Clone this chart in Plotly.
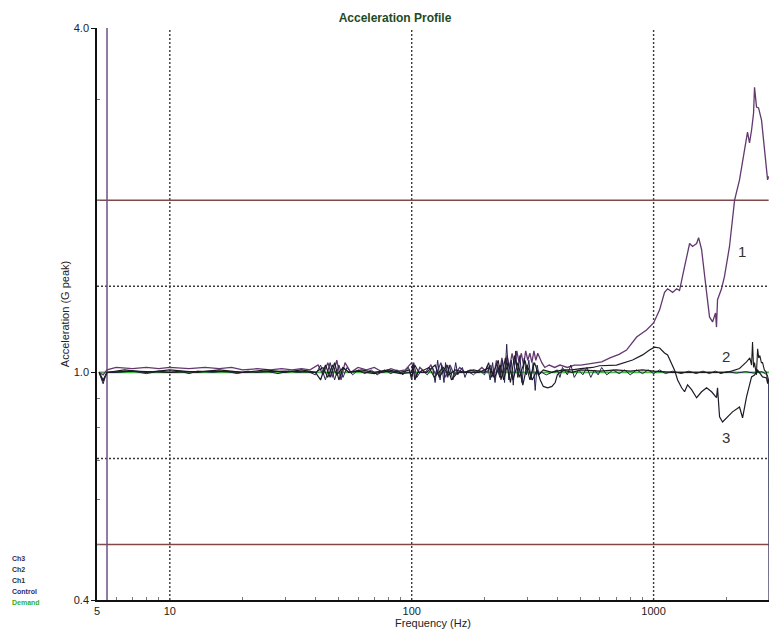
import numpy as np
import plotly.graph_objects as go

# ---- response data: (frequency Hz, acceleration G peak) ----
demand = [(5.1, 1.0), (3000, 1.0)]

control = [
    (5.1, 1.0), (5.2, 0.98), (5.3, 0.955), (5.4, 0.98), (5.5, 1.0), (6, 1.0), (7, 1.005),
    (8, 0.995), (9, 1.005), (10, 1.0), (11, 1.005), (12, 0.995), (13, 1.005), (15, 1.0),
    (17, 1.005), (19, 0.995), (21, 1.005), (23, 1.0), (25, 1.005), (28, 0.995), (31, 1.005),
    (34, 1.0), (37, 1.005), (40, 0.99), (42, 1.03), (44, 0.97), (46, 1.04), (48, 0.97),
    (50, 1.03), (52, 0.98), (54, 1.02), (57, 0.99), (60, 1.01), (64, 0.995), (68, 1.01),
    (72, 0.99), (77, 1.01), (82, 0.995), (87, 1.01), (92, 0.99), (97, 1.02), (100, 0.97),
    (102, 1.04), (105, 0.98), (110, 1.01), (116, 0.99), (122, 1.02), (125, 0.96), (128, 1.05),
    (131, 0.97), (133, 1.03), (136, 0.96), (138, 1.04), (141, 0.98), (143, 1.03), (148, 0.97),
    (152, 1.04), (155, 0.99), (162, 1.02), (166, 0.98), (170, 1.005), (180, 0.99),
    (190, 1.01), (200, 0.99), (206, 1.03), (211, 0.97), (216, 1.04), (221, 0.96), (226, 1.03),
    (231, 0.98), (237, 1.05), (242, 0.96), (247, 1.12), (252, 0.97), (258, 1.05), (263, 0.95),
    (269, 1.09), (274, 0.98), (280, 1.07), (286, 0.96), (292, 1.06), (298, 0.99), (305, 1.05),
    (311, 0.97), (318, 1.04), (324, 0.93), (330, 1.03), (336, 0.99), (345, 1.0), (360, 0.99),
    (380, 1.0), (400, 1.01), (410, 0.98), (420, 1.02), (440, 0.99), (455, 1.03), (470, 0.98),
    (490, 1.01), (510, 0.99), (530, 1.02), (550, 0.98), (570, 1.01), (590, 0.99), (610, 1.02),
    (640, 0.99), (680, 1.01), (720, 0.995), (760, 1.01), (800, 0.99), (850, 1.01), (900, 0.995),
    (950, 1.01), (1000, 0.995), (1060, 1.01), (1120, 0.995), (1200, 1.005), (1300, 0.995),
    (1400, 1.005), (1500, 0.995), (1600, 1.005), (1700, 0.995), (1800, 1.005), (1900, 0.995),
    (2000, 1.003), (2200, 0.997), (2400, 1.003), (2600, 0.997), (2800, 1.003), (2950, 0.99),
    (2990, 0.97), (3000, 0.3),
]

ch1 = [
    (5.1, 1.0), (5.3, 0.99), (5.5, 1.01), (6, 1.02), (7, 1.015), (8, 1.02), (9, 1.015),
    (10, 1.02), (12, 1.015), (14, 1.02), (16, 1.015), (18, 1.02), (20, 1.01), (23, 1.015),
    (26, 1.01), (29, 1.015), (32, 1.01), (35, 1.015), (38, 1.01), (41, 1.03), (43, 0.99),
    (45, 1.04), (47, 0.98), (49, 1.05), (51, 0.97), (53, 1.04), (56, 1.0), (60, 1.02),
    (65, 1.01), (70, 1.02), (76, 1.0), (82, 1.015), (88, 1.005), (94, 1.01), (100, 1.04),
    (104, 0.98), (108, 1.02), (114, 1.0), (120, 1.03), (126, 0.99), (132, 1.04), (138, 0.98),
    (144, 1.03), (150, 0.99), (158, 1.02), (166, 1.0), (175, 1.01), (185, 1.0), (195, 1.02),
    (205, 1.0), (212, 1.03), (218, 0.98), (224, 1.05), (230, 0.99), (236, 1.06), (242, 1.0),
    (248, 1.07), (254, 1.02), (260, 1.08), (266, 1.03), (272, 1.09), (278, 1.04), (284, 1.08),
    (290, 1.03), (296, 1.09), (302, 1.05), (308, 1.08), (314, 1.04), (320, 1.09), (326, 1.05),
    (332, 1.08), (338, 1.06), (345, 1.04), (355, 1.02), (370, 1.03), (390, 1.02), (410, 1.03),
    (440, 1.02), (470, 1.03), (500, 1.03), (540, 1.035), (580, 1.04), (610, 1.043), (660, 1.06),
    (720, 1.075), (773, 1.094), (851, 1.153), (935, 1.186), (1000, 1.22), (1059, 1.286),
    (1110, 1.38), (1143, 1.40), (1199, 1.38), (1245, 1.40), (1280, 1.39), (1343, 1.53),
    (1409, 1.68), (1449, 1.66), (1506, 1.68), (1535, 1.72), (1579, 1.64), (1656, 1.38),
    (1703, 1.25), (1753, 1.225), (1803, 1.27), (1820, 1.20), (1838, 1.34), (1909, 1.40),
    (1963, 1.47), (2060, 1.66), (2162, 2.00), (2266, 2.17), (2422, 2.58), (2445, 2.63),
    (2492, 2.52), (2541, 2.65), (2590, 2.84), (2614, 3.15), (2664, 2.91), (2716, 2.90),
    (2794, 2.76), (2875, 2.48), (2960, 2.17), (2990, 2.2),
]

ch2 = [
    (5.1, 1.0), (5.3, 0.965), (5.5, 1.0), (6.5, 1.01), (8, 1.0), (10, 1.01), (13, 1.0),
    (16, 1.01), (20, 1.0), (25, 1.01), (30, 1.0), (35, 1.01), (40, 1.0), (43, 1.02), (45, 0.98),
    (47, 1.03), (49, 0.99), (52, 1.02), (55, 1.0), (62, 1.01), (70, 1.0), (80, 1.01), (90, 1.0),
    (98, 1.01), (100, 0.98), (103, 1.03), (107, 1.0), (118, 1.02), (124, 0.98), (135, 1.02),
    (142, 0.99), (152, 1.01), (165, 1.0), (180, 1.01), (200, 1.0), (208, 1.04), (214, 0.98),
    (228, 1.05), (234, 0.97), (244, 1.06), (256, 0.96), (266, 1.07), (278, 0.98), (294, 1.05),
    (308, 0.97), (322, 1.04), (334, 0.99), (350, 1.01), (380, 1.0), (420, 1.01), (460, 1.0),
    (500, 1.01), (600, 1.005), (700, 1.01), (800, 1.005), (900, 1.01), (1000, 1.005),
    (1200, 1.0), (1500, 1.0), (1800, 1.0), (2000, 1.0), (2100, 1.005), (2266, 1.016),
    (2422, 1.043), (2500, 1.06), (2541, 1.03), (2565, 1.13), (2590, 1.02), (2614, 1.04),
    (2660, 0.99), (2692, 1.10), (2720, 1.06), (2750, 1.07), (2790, 1.04), (2822, 1.04),
    (2870, 1.01), (2930, 1.0), (2960, 0.96), (2990, 0.97),
]

ch3 = [
    (5.1, 1.0), (5.3, 0.97), (5.5, 1.0), (7, 1.005), (10, 1.0), (15, 1.005), (20, 1.0),
    (30, 1.005), (40, 1.0), (42, 0.97), (44, 1.03), (46, 0.98), (48, 1.04), (50, 0.97),
    (52, 1.02), (55, 1.0), (60, 1.005), (70, 0.995), (80, 1.005), (90, 0.995), (100, 1.0),
    (101, 1.03), (103, 0.97), (106, 1.0), (115, 1.0), (125, 1.03), (130, 0.98), (140, 1.03),
    (146, 0.97), (155, 1.0), (170, 1.0), (190, 1.0), (210, 1.02), (220, 0.98), (232, 1.03),
    (240, 0.97), (250, 1.04), (262, 0.97), (275, 1.04), (288, 0.95), (300, 1.03), (315, 0.97),
    (330, 1.01), (340, 0.97), (350, 0.945), (365, 0.94), (380, 0.945), (392, 0.96), (400, 0.99),
    (410, 1.0), (430, 1.01), (460, 1.01), (500, 1.015), (560, 1.02), (598, 1.027), (703, 1.03),
    (819, 1.051), (901, 1.073), (962, 1.094), (1010, 1.107), (1059, 1.103), (1110, 1.081),
    (1143, 1.073), (1187, 1.038), (1221, 1.009), (1257, 0.97), (1306, 0.94), (1343, 0.925),
    (1382, 0.951), (1436, 0.933), (1506, 0.903), (1579, 0.925), (1656, 0.94), (1737, 0.925),
    (1820, 0.903), (1838, 0.94), (1874, 0.836), (1928, 0.819), (2022, 0.836), (2119, 0.853),
    (2266, 0.870), (2333, 0.833), (2422, 0.906), (2492, 0.958), (2541, 0.982), (2614, 0.989),
    (2692, 1.009), (2822, 0.982), (2930, 0.978), (2960, 0.958), (2990, 0.96),
]

abort_limits = [2.0, 0.5]
alarm_limits = [1.414, 0.707]
grid_freqs = [10, 100, 1000]
start_freq = 5.5

x_ticks = [5, 10, 100, 1000, 3000]
y_ticks = [0.4, 1.0, 4.0]
y_ticktext = ["0.4", "1.0", "4.0"]
x_range = (5, 3000)
y_range = (0.4, 4.0)

legend_items = [("Ch3", "#3b2b5e"), ("Ch2", "#2b3b2b"), ("Ch1", "#233535"),
                ("Control", "#2a2a70"), ("Demand", "#2fae2f")]

curve_labels = [("1", 2310, 1.63), ("2", 2000, 1.064), ("3", 2000, 0.768)]


def xy(pairs):
    f, g = zip(*pairs)
    return list(f), list(g)


fig = go.Figure()

# reference lines: dotted grid, alarm and abort limits, start marker
gx, gy = [], []
for f in grid_freqs:
    gx += [f, f, None]
    gy += [y_range[0], y_range[1], None]
fig.add_trace(go.Scatter(x=gx, y=gy, mode="lines", hoverinfo="skip",
                         line=dict(color="#3a3a3a", width=1.4, dash="2px,2px")))
ax_, ay_ = [], []
for v in alarm_limits:
    ax_ += [x_range[0], x_range[1], None]
    ay_ += [v, v, None]
fig.add_trace(go.Scatter(x=ax_, y=ay_, mode="lines", hoverinfo="skip",
                         line=dict(color="#3a3a3a", width=1.4, dash="2px,2px")))
bx, by = [], []
for v in abort_limits:
    bx += [x_range[0], 2990, None]
    by += [v, v, None]
fig.add_trace(go.Scatter(x=bx, y=by, mode="lines", hoverinfo="skip",
                         line=dict(color="#804848", width=1.5)))
fig.add_trace(go.Scatter(x=[start_freq, start_freq], y=[y_range[0], y_range[1]], mode="lines",
                         hoverinfo="skip", line=dict(color="#6e4f80", width=1.5)))

# response curves
for name, pairs, color, width in [
    ("Demand", demand, "#46b946", 1.6),
    ("Ch1", ch1, "#62386f", 1.3),
    ("Control", control, "#23234f", 1.0),
    ("Ch2", ch2, "#1c1c1c", 1.1),
    ("Ch3", ch3, "#1c1c28", 1.2),
]:
    fx, fg = xy(pairs)
    fig.add_trace(go.Scatter(x=fx, y=fg, mode="lines", name=name,
                             line=dict(color=color, width=width)))

annotations = []
for text, f, g in curve_labels:
    annotations.append(dict(x=np.log10(f), y=np.log10(g), xref="x", yref="y", text=text,
                            showarrow=False, font=dict(size=15, color="#333333")))

# channel key in the lower-left corner
plot_left, plot_w, plot_bottom, plot_h = 97, 672.5, 600, 572
for i, (text, color) in enumerate(legend_items):
    ypix = 558 + i * 11
    annotations.append(dict(x=(10 - plot_left) / plot_w, y=(plot_bottom - ypix) / plot_h,
                            xref="paper", yref="paper", xanchor="left", yanchor="middle",
                            text="<b>" + text + "</b>", showarrow=False,
                            font=dict(size=7, color=color)))

font_family = "Arial, Liberation Sans, sans-serif"
fig.update_layout(
    width=779, height=632,
    margin=dict(l=97, r=9.5, t=28, b=32, autoexpand=False),
    paper_bgcolor="white", plot_bgcolor="white",
    showlegend=False,
    font=dict(family=font_family, size=11, color="#222222"),
    title=dict(text="<b>Acceleration Profile</b>", x=395 / 779, xanchor="center",
               y=1 - 18 / 632, yanchor="middle",
               font=dict(size=12, color="#1e4a1e", family=font_family)),
    annotations=annotations,
)
fig.update_xaxes(
    type="log", range=[np.log10(x_range[0]), np.log10(x_range[1])], automargin=False,
    tickvals=x_ticks, ticktext=[str(v) for v in x_ticks],
    showgrid=False, zeroline=False, showline=True, linecolor="#111111", linewidth=1.5,
    ticks="", tickfont=dict(size=11, color="#222222"),
    minor=dict(ticks="inside", ticklen=3, tickcolor="#777777",
               tickvals=[6, 7, 8, 9, 20, 30, 40, 50, 60, 70, 80, 90,
                         200, 300, 400, 500, 600, 700, 800, 900, 2000]),
    title=dict(text="Frequency (Hz)", font=dict(size=11, color="#222222"), standoff=0),
)
fig.update_yaxes(
    type="log", range=[np.log10(y_range[0]), np.log10(y_range[1])], automargin=False,
    tickvals=y_ticks, ticktext=y_ticktext,
    showgrid=False, zeroline=False, showline=True, linecolor="#111111", linewidth=1.5,
    ticks="outside", ticklen=4, tickcolor="#111111", tickfont=dict(size=11, color="#222222"),
    minor=dict(ticks="inside", ticklen=3, tickcolor="#777777",
               tickvals=[0.5, 0.6, 0.7, 0.8, 0.9, 2, 3]),
    title=dict(text="Acceleration (G peak)", font=dict(size=11, color="#222222"), standoff=2),
)

fig.write_html("out.html")
